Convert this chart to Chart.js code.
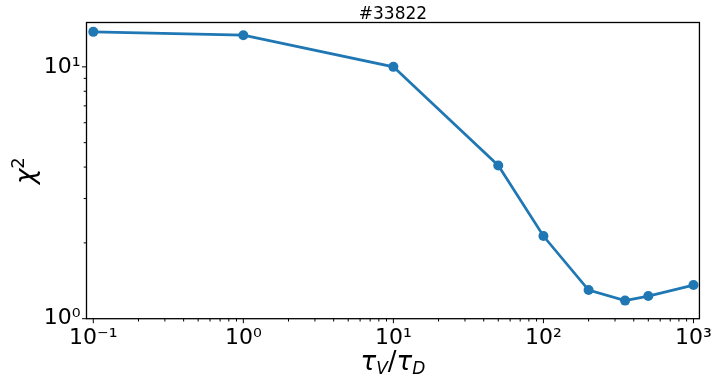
<!DOCTYPE html>
<html>
<head>
<meta charset="utf-8">
<script src="https://cdn.jsdelivr.net/npm/chart.js@4/dist/chart.umd.min.js"></script>
<style>
html,body{margin:0;padding:0;background:#fff;}
canvas{display:block;}
</style>
</head>
<body>
<canvas id="c" width="714" height="379"></canvas>
<script>
// ---- data ----
const tauRatio = [0.1, 1, 10, 50, 100, 200, 350, 500, 1000];
const chiSquared = [13.77, 13.36, 10.0, 4.06, 2.13, 1.30, 1.18, 1.23, 1.36];
const xMajorTicks = [0.1, 1, 10, 100, 1000];
const xTickLabels = ['10\u207B\u00B9', '10\u2070', '10\u00B9', '10\u00B2', '10\u00B3'];
const yMajorTicks = [1, 10];
const yTickLabels = ['10\u2070', '10\u00B9'];
const chartTitle = '#33822';
const xRange = [0.0901, 1096];
const yRange = [1, 15];

const FONT = "'DejaVu Sans', sans-serif";
const LINE_COLOR = '#1f77b4';

function logTicks(min, max, majors) {
  const out = [];
  for (let k = -3; k <= 4; k++) {
    for (let m = 1; m <= 9; m++) {
      const v = Number((m * Math.pow(10, k)).toPrecision(12));
      if (v >= min && v <= max) {
        const mi = majors.indexOf(v);
        out.push({ value: mi >= 0 ? majors[mi] : v, major: mi >= 0 });
      }
    }
  }
  return out;
}

const mplPlugin = {
  id: 'mplDecor',
  afterDraw(chart) {
    const ctx = chart.ctx, a = chart.chartArea;
    ctx.save();
    ctx.strokeStyle = '#000';
    ctx.lineWidth = 1;
    const xs = chart.scales.x, ys = chart.scales.y;
    xs.ticks.forEach(t => {
      const px = xs.getPixelForValue(t.value);
      const L = xMajorTicks.indexOf(t.value) >= 0 ? 4.5 : 2.8;
      ctx.beginPath(); ctx.moveTo(px, a.bottom); ctx.lineTo(px, a.bottom + L); ctx.stroke();
    });
    ys.ticks.forEach(t => {
      const py = ys.getPixelForValue(t.value);
      const L = yMajorTicks.indexOf(t.value) >= 0 ? 4.5 : 2.8;
      ctx.beginPath(); ctx.moveTo(a.left, py); ctx.lineTo(a.left - L, py); ctx.stroke();
    });
    // frame
    ctx.lineWidth = 1.3;
    ctx.strokeRect(a.left, a.top, a.right - a.left, a.bottom - a.top);

    // title
    ctx.fillStyle = '#000';
    ctx.font = '17px ' + FONT;
    ctx.textAlign = 'center';
    ctx.textBaseline = 'alphabetic';
    ctx.fillText(chartTitle, (a.left + a.right) / 2, 19.3);

    // x label: tau_V / tau_D
    const big = 26, small = 17;
    const parts = [
      { t: '\u03C4', f: 'oblique ' + big + 'px ' + FONT, dy: 0 },
      { t: 'V', f: 'oblique ' + small + 'px ' + FONT, dy: 4 },
      { t: '/', f: big + 'px ' + FONT, dy: 0 },
      { t: '\u03C4', f: 'oblique ' + big + 'px ' + FONT, dy: 0 },
      { t: 'D', f: 'oblique ' + small + 'px ' + FONT, dy: 4 }
    ];
    let total = 0;
    parts.forEach(p => { ctx.font = p.f; p.w = ctx.measureText(p.t).width; total += p.w; });
    let x = (a.left + a.right) / 2 - total / 2;
    const base = 369.5;
    ctx.textAlign = 'left';
    parts.forEach(p => { ctx.font = p.f; ctx.fillText(p.t, x, base + p.dy); x += p.w; });

    // y label: chi^2
    ctx.translate(34, (a.top + a.bottom) / 2);
    ctx.rotate(-Math.PI / 2);
    const yp = [
      { t: '\u03C7', f: 'oblique ' + 26 + 'px ' + FONT, dy: 0 },
      { t: '2', f: 18 + 'px ' + FONT, dy: -10 }
    ];
    total = 0;
    yp.forEach(p => { ctx.font = p.f; p.w = ctx.measureText(p.t).width; total += p.w; });
    x = -total / 2;
    yp.forEach(p => { ctx.font = p.f; ctx.fillText(p.t, x, p.dy); x += p.w; });
    ctx.restore();
  }
};

new Chart(document.getElementById('c'), {
  type: 'line',
  data: {
    datasets: [{
      data: tauRatio.map((v, i) => ({ x: v, y: chiSquared[i] })),
      borderColor: LINE_COLOR,
      backgroundColor: LINE_COLOR,
      borderWidth: 2.7,
      pointRadius: 5,
      pointBorderWidth: 0,
      pointBackgroundColor: LINE_COLOR,
      tension: 0,
      fill: false
    }]
  },
  options: {
    responsive: false,
    animation: false,
    events: [],
    layout: { padding: { top: 22.5, right: 12.3, bottom: 0, left: 0 } },
    plugins: { legend: { display: false }, tooltip: { enabled: false }, title: { display: false } },
    scales: {
      x: {
        type: 'logarithmic',
        min: xRange[0], max: xRange[1],
        afterBuildTicks: s => { s.ticks = logTicks(xRange[0], xRange[1], xMajorTicks); },
        afterFit: s => { s.height = 60.3; },
        grid: { display: true, drawOnChartArea: false, drawTicks: true, tickLength: 4.5, color: 'rgba(0,0,0,0)', tickColor: 'rgba(0,0,0,0)' },
        border: { display: false },
        ticks: {
          autoSkip: false, maxRotation: 0, minRotation: 0, padding: 2,
          color: '#000', font: { family: FONT, size: 22 },
          callback: v => { const i = xMajorTicks.indexOf(v); return i >= 0 ? xTickLabels[i] : ''; }
        }
      },
      y: {
        type: 'logarithmic',
        min: yRange[0], max: yRange[1],
        afterBuildTicks: s => { s.ticks = logTicks(yRange[0], yRange[1], yMajorTicks); },
        afterFit: s => { s.width = 86.5; },
        grid: { display: true, drawOnChartArea: false, drawTicks: true, tickLength: 4.5, color: 'rgba(0,0,0,0)', tickColor: 'rgba(0,0,0,0)' },
        border: { display: false },
        ticks: {
          autoSkip: false, padding: 1.5,
          color: '#000', font: { family: FONT, size: 22 },
          callback: v => { const i = yMajorTicks.indexOf(v); return i >= 0 ? yTickLabels[i] : ''; }
        }
      }
    }
  },
  plugins: [mplPlugin]
});
</script>
</body>
</html>
